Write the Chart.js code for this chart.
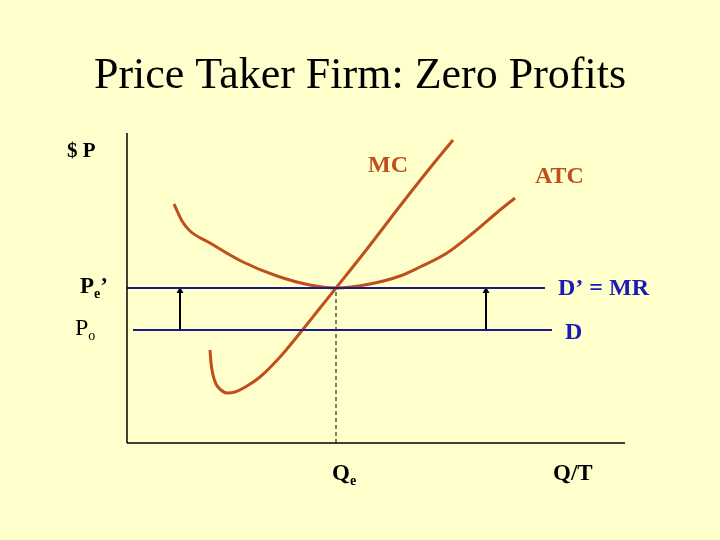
<!DOCTYPE html>
<html>
<head>
<meta charset="utf-8">
<script src="https://cdn.jsdelivr.net/npm/chart.js@4.4.1/dist/chart.umd.min.js"></script>
<style>
  html, body { margin: 0; padding: 0; background: #FFFFCC; }
  #wrap { width: 720px; height: 540px; }
</style>
</head>
<body>
<div id="wrap"><canvas id="chart"></canvas></div>
<script>
// --- data (quantity units on x, price units on y) ---
const mcQty   = [83, 84, 86, 89, 94, 100, 108, 120, 133, 153, 173, 193, 209, 240, 273, 303, 326];
const mcCost  = [93, 80, 68, 59, 53, 50, 51, 57, 66, 86, 110, 135, 155, 194, 237, 275, 303];
const atcQty  = [47, 55, 63, 83, 116, 150, 183, 209, 243, 273, 293, 320, 346, 373, 388];
const atcCost = [239, 222, 212, 200, 181, 167, 158, 155, 159, 167, 176, 190, 210, 233, 245];
const priceOld = 113;   // Po
const priceNew = 155;   // Pe'
const qtyEq = 209;      // Qe
const dOldRange = [6, 425];
const dNewRange = [0, 418];
const arrowQty = [53, 359];
const chartTitle = 'Price Taker Firm: Zero Profits';

const curveColor = '#BF4F1C';
const blueColor = '#1B1B8F';
const labelBlue = '#1A1AB8';

const pts = (xs, ys) => xs.map((x, i) => ({ x: x, y: ys[i] }));

const datasets = [
  { data: [{ x: 0, y: 0 }, { x: 0, y: 310 }], borderColor: '#000', borderWidth: 1.5 },
  { data: [{ x: 0, y: 0 }, { x: 498, y: 0 }], borderColor: '#000', borderWidth: 1.5 },
  { data: [{ x: dNewRange[0], y: priceNew }, { x: dNewRange[1], y: priceNew }], borderColor: blueColor, borderWidth: 2 },
  { data: [{ x: dOldRange[0], y: priceOld }, { x: dOldRange[1], y: priceOld }], borderColor: blueColor, borderWidth: 2 },
  { data: [{ x: qtyEq, y: 0 }, { x: qtyEq, y: priceNew }], borderColor: '#000', borderWidth: 1, borderDash: [4, 3] },
  { data: pts(atcQty, atcCost), borderColor: curveColor, borderWidth: 3, cubicInterpolationMode: 'monotone' },
  { data: pts(mcQty, mcCost), borderColor: curveColor, borderWidth: 3, cubicInterpolationMode: 'monotone' }
];
arrowQty.forEach(q => {
  datasets.push({
    data: [{ x: q, y: priceOld }, { x: q, y: priceNew - 3 }],
    borderColor: '#000', borderWidth: 2,
    pointStyle: 'triangle', pointRadius: [0, 4], backgroundColor: '#000', pointBorderWidth: 0
  });
});
datasets.forEach(d => {
  d.showLine = true;
  d.clip = false;
  if (d.pointRadius === undefined) d.pointRadius = 0;
});

// text labels: [parts, x, y (baseline), colour, size, bold]
const labels = [
  [[['$ P']], -60, 286, '#000', 21, true],
  [[['MC']], 241, 271, curveColor, 24, true],
  [[['ATC']], 408, 260, curveColor, 24, true],
  [[['P'], ['e', 'sub'], ['’', 'sup']], -47, 150, '#000', 23, true],
  [[['P'], ['o', 'sub']], -52, 108, '#000', 24, false],
  [[['D’ = MR']], 431, 148, labelBlue, 24, true],
  [[['D']], 438, 104, labelBlue, 24, true],
  [[['Q'], ['e', 'sub']], 205, -37, '#000', 23, true],
  [[['Q/T']], 426, -37, '#000', 23, true]
];

const serif = '"Liberation Serif", "Times New Roman", serif';

const labelPlugin = {
  id: 'labels',
  afterDatasetsDraw(chart) {
    const ctx = chart.ctx;
    const xs = chart.scales.x, ys = chart.scales.y;
    ctx.save();
    // title, centred on the page
    ctx.fillStyle = '#000';
    ctx.font = '44px ' + serif;
    ctx.textAlign = 'center';
    ctx.textBaseline = 'alphabetic';
    ctx.fillText(chartTitle, chart.width / 2, 88);

    ctx.textAlign = 'left';
    labels.forEach(([parts, x, y, color, size, bold]) => {
      let px = xs.getPixelForValue(x);
      const py = ys.getPixelForValue(y);
      ctx.fillStyle = color;
      parts.forEach(([t, kind]) => {
        let fs = size, dy = 0;
        if (kind === 'sub') { fs = Math.round(size * 0.6); dy = 5; }
        ctx.font = (bold ? 'bold ' : '') + fs + 'px ' + serif;
        ctx.fillText(t, px, py + dy);
        px += ctx.measureText(t).width;
      });
    });
    ctx.restore();
  }
};

new Chart(document.getElementById('chart'), {
  type: 'scatter',
  data: { datasets: datasets },
  plugins: [labelPlugin],
  options: {
    responsive: true,
    maintainAspectRatio: false,
    animation: false,
    layout: { padding: { left: 127, right: 95, bottom: 97, top: 133 } },
    scales: {
      x: { type: 'linear', min: 0, max: 498, display: false },
      y: { type: 'linear', min: 0, max: 310, display: false }
    },
    plugins: {
      legend: { display: false },
      tooltip: { enabled: false },
      title: { display: false }
    }
  }
});
</script>
</body>
</html>
